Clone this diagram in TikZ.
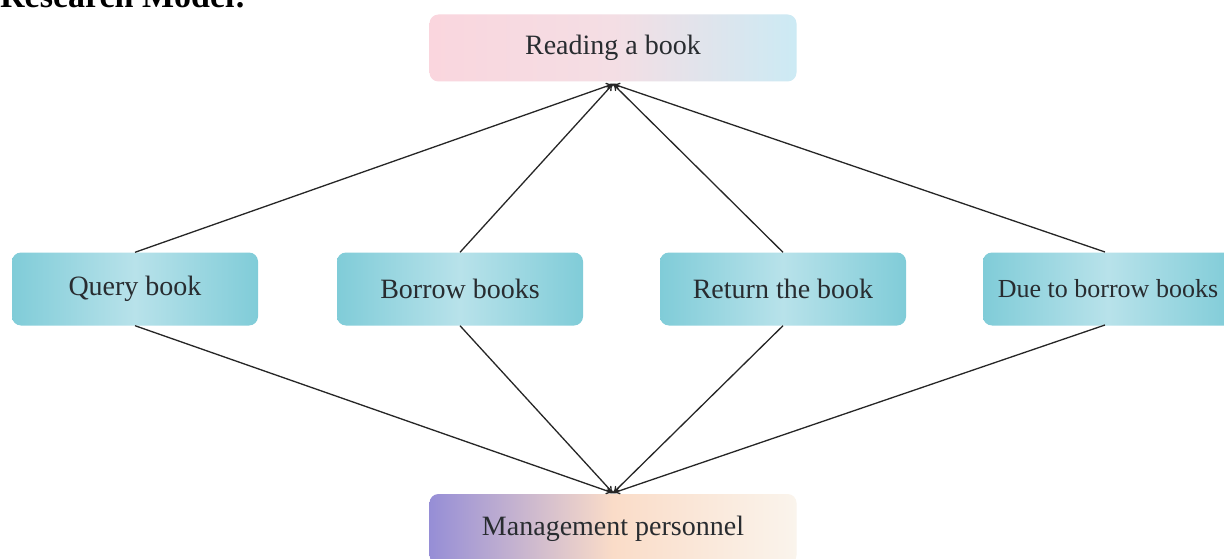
\documentclass[tikz,border=0pt]{standalone}
\usepackage{fontspec}
\setmainfont{Liberation Serif}
\usetikzlibrary{arrows.meta}
\definecolor{bedge}{RGB}{128,204,216}
\definecolor{bmid}{RGB}{184,226,234}
\definecolor{txt}{RGB}{40,44,48}
\begin{document}
\begin{tikzpicture}[x=1pt,y=-1pt,
  box/.style={rounded corners=9pt, minimum height=73pt, text=txt, font=\fontsize{28}{32}\selectfont},
  bluebox/.style={box, minimum width=246pt, shading=axis, left color=bedge, right color=bedge, middle color=bmid},
  conn/.style={line width=1.3pt, black!85, -{To[length=7pt,width=7pt]}}
]
\useasboundingbox (0,0) rectangle (1224,559);
\clip (0,0) rectangle (1224,559);
\fill[white] (0,0) rectangle (1224,559);
\node[anchor=base west, font=\fontsize{34}{38}\selectfont\bfseries, inner sep=0pt] (title) at (0,8) {Research Model:};
\node[box, minimum width=367pt, minimum height=67pt, shading=axis, left color={rgb,255:red,250;green,214;blue,222}, right color={rgb,255:red,204;green,234;blue,244}, middle color={rgb,255:red,244;green,222;blue,228}] (read) at (613,48) {Reading a book};
\node[bluebox] (query) at (135,289) {Query book};
\node[bluebox] (borrow) at (460,289) {Borrow books};
\node[bluebox] (return) at (783,289) {Return the book};
\node[bluebox, minimum width=250pt, inner xsep=2pt, font=\fontsize{26}{30}\selectfont] (due) at (1108,289) {Due to borrow books};
\node[box, minimum width=367pt, minimum height=70pt, shading=axis, left color={rgb,255:red,150;green,142;blue,214}, right color={rgb,255:red,250;green,244;blue,236}, middle color={rgb,255:red,250;green,220;blue,200}] (mgmt) at (613,529) {Management personnel};
\coordinate (rt) at (613,84);
\coordinate (mb) at (613,493);
\coordinate (dn) at (1105,252);
\coordinate (ds) at (1105,325);
\draw[conn] (query.north) -- (rt);
\draw[conn] (borrow.north) -- (rt);
\draw[conn] (return.north) -- (rt);
\draw[conn] (dn) -- (rt);
\draw[conn] (query.south) -- (mb);
\draw[conn] (borrow.south) -- (mb);
\draw[conn] (return.south) -- (mb);
\draw[conn] (ds) -- (mb);
\end{tikzpicture}
\end{document}
